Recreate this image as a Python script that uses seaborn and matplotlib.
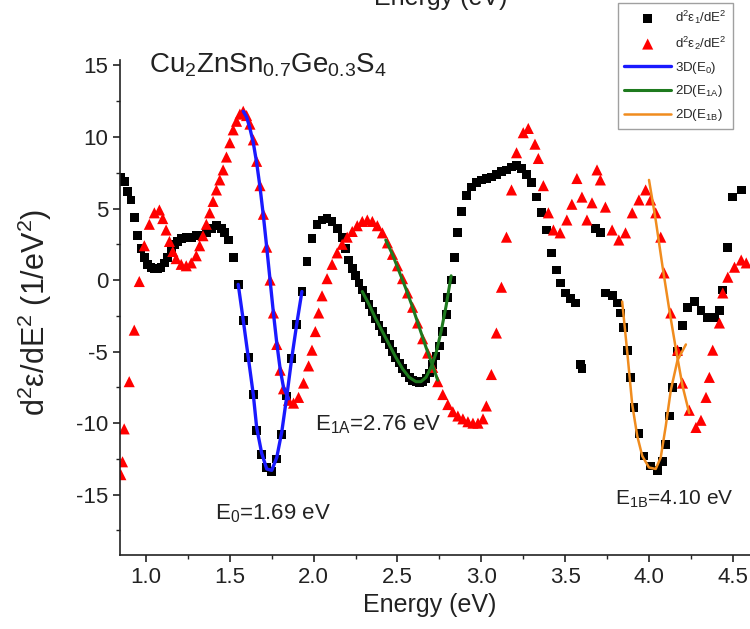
import numpy as np
import pandas as pd
import seaborn as sns
import matplotlib.pyplot as plt

# d2e1/dE2 (black squares)
e1_energy = [0.85, 0.87, 0.89, 0.91, 0.93, 0.95, 0.97, 0.99, 1.01, 1.03, 1.05, 1.07, 1.09, 1.11, 1.13,
             1.15, 1.17, 1.19, 1.21, 1.24, 1.27, 1.30, 1.33, 1.36, 1.39, 1.42, 1.45, 1.47, 1.49, 1.52,
             1.55, 1.58, 1.61, 1.64, 1.66, 1.69, 1.72, 1.75, 1.78, 1.81, 1.84, 1.87, 1.90, 1.93, 1.96,
             1.99, 2.02, 2.05, 2.08, 2.11, 2.14, 2.17, 2.19, 2.21, 2.23, 2.25, 2.27, 2.29, 2.31, 2.33,
             2.35, 2.37, 2.39, 2.41, 2.43, 2.45, 2.47, 2.49, 2.51, 2.53, 2.55, 2.57, 2.59, 2.61, 2.63,
             2.65, 2.67, 2.69, 2.71, 2.73, 2.75, 2.77, 2.79, 2.80, 2.82, 2.84, 2.86, 2.88, 2.91, 2.94,
             2.97, 3.00, 3.03, 3.06, 3.09, 3.12, 3.15, 3.18, 3.21, 3.24, 3.27, 3.30, 3.33, 3.36, 3.39,
             3.42, 3.45, 3.47, 3.50, 3.53, 3.56, 3.59, 3.60, 3.68, 3.71, 3.74, 3.78, 3.81, 3.83, 3.85,
             3.87, 3.89, 3.91, 3.94, 3.97, 4.01, 4.05, 4.08, 4.10, 4.12, 4.14, 4.17, 4.20, 4.23, 4.27,
             4.31, 4.35, 4.39, 4.42, 4.44, 4.47, 4.50, 4.55]
e1_d2 = [7.2, 6.9, 6.2, 5.6, 4.4, 3.1, 2.2, 1.6, 1.1, 0.9, 0.8, 0.8, 0.9, 1.2, 1.6,
         2.1, 2.5, 2.7, 2.9, 3.0, 3.0, 3.1, 3.1, 3.3, 3.6, 3.8, 3.6, 3.3, 2.8, 1.6,
         -0.3, -2.8, -5.4, -8.0, -10.5, -12.2, -13.1, -13.4, -12.5, -10.8, -8.1, -5.5, -3.1, -0.8, 1.3,
         2.9, 3.9, 4.2, 4.3, 4.1, 3.6, 3.0, 2.2, 1.4, 0.8, 0.3, -0.2, -0.7, -1.2, -1.7,
         -2.2, -2.7, -3.2, -3.6, -4.1, -4.5, -5.0, -5.4, -5.8, -6.2, -6.5, -6.8, -7.0, -7.1, -7.2,
         -7.1, -6.9, -6.5, -5.9, -5.3, -4.6, -3.6, -2.4, -1.2, 0.0, 1.6, 3.3, 4.8, 5.9, 6.5,
         6.8, 7.0, 7.1, 7.2, 7.4, 7.6, 7.7, 7.9, 8.0, 7.8, 7.4, 6.8, 5.8, 4.7, 3.5,
         1.9, 0.7, -0.2, -0.9, -1.3, -1.6, -5.9, -6.2, 3.6, 3.3, -0.9, -1.1, -1.6, -2.3, -3.3,
         -4.9, -6.8, -8.9, -10.7, -12.3, -13.0, -13.3, -12.7, -11.5, -9.5, -7.5, -5.0, -3.2, -1.9, -1.5,
         -2.1, -2.6, -2.6, -2.1, -0.7, 2.3, 5.8, 6.3]

# d2e2/dE2 (red triangles)
e2_energy = [0.85, 0.86, 0.87, 0.90, 0.93, 0.96, 0.99, 1.02, 1.05, 1.08, 1.10, 1.12, 1.14, 1.16, 1.18,
             1.21, 1.24, 1.27, 1.30, 1.32, 1.34, 1.36, 1.38, 1.40, 1.42, 1.44, 1.46, 1.48, 1.50, 1.52,
             1.54, 1.56, 1.58, 1.60, 1.62, 1.64, 1.66, 1.68, 1.70, 1.72, 1.74, 1.76, 1.78, 1.80, 1.82,
             1.85, 1.88, 1.91, 1.94, 1.97, 1.99, 2.01, 2.03, 2.05, 2.08, 2.11, 2.14, 2.17, 2.20, 2.23,
             2.26, 2.29, 2.32, 2.35, 2.38, 2.41, 2.44, 2.47, 2.50, 2.53, 2.56, 2.59, 2.62, 2.65, 2.68,
             2.71, 2.74, 2.77, 2.80, 2.83, 2.86, 2.89, 2.92, 2.95, 2.98, 3.01, 3.03, 3.06, 3.09, 3.12,
             3.15, 3.18, 3.21, 3.25, 3.28, 3.32, 3.34, 3.37, 3.40, 3.43, 3.47, 3.51, 3.54, 3.57, 3.60,
             3.63, 3.66, 3.69, 3.71, 3.74, 3.78, 3.82, 3.86, 3.90, 3.94, 3.98, 4.01, 4.04, 4.07, 4.09,
             4.13, 4.17, 4.20, 4.24, 4.28, 4.31, 4.34, 4.36, 4.38, 4.42, 4.44, 4.47, 4.51, 4.55, 4.58]
e2_d2 = [-13.6, -12.7, -10.4, -7.1, -3.5, -0.1, 2.4, 3.9, 4.7, 4.9, 4.3, 3.5, 2.7, 2.0, 1.5,
         1.1, 1.0, 1.2, 1.7, 2.4, 3.1, 3.9, 4.7, 5.5, 6.3, 7.0, 7.7, 8.6, 9.6, 10.5,
         11.1, 11.6, 11.8, 11.5, 10.9, 9.8, 8.3, 6.6, 4.6, 2.3, 0.0, -2.3, -4.5, -6.3, -7.6,
         -8.4, -8.6, -8.2, -7.2, -6.0, -4.9, -3.6, -2.3, -1.1, 0.1, 1.1, 1.9, 2.5, 3.0, 3.4,
         3.8, 4.1, 4.2, 4.1, 3.8, 3.3, 2.6, 1.8, 1.0, 0.1, -0.9, -1.9, -3.0, -4.1, -5.1,
         -6.1, -7.1, -8.0, -8.7, -9.2, -9.5, -9.7, -9.9, -10.0, -10.0, -9.7, -8.8, -6.6, -3.7, -0.5,
         3.0, 6.3, 8.9, 10.3, 10.6, 9.5, 8.5, 6.6, 4.7, 3.5, 3.3, 4.2, 5.3, 7.1, 5.8,
         4.2, 5.4, 7.7, 7.0, 5.1, 3.5, 2.8, 3.3, 4.7, 5.6, 6.3, 5.6, 4.7, 3.0, 0.5,
         -2.3, -4.9, -7.2, -9.1, -10.3, -9.8, -8.2, -6.8, -4.9, -3.0, -0.9, 0.2, 0.9, 1.4, 1.2]

# fits
e0_black_energy = [1.55, 1.58, 1.61, 1.64, 1.66, 1.69, 1.72, 1.75, 1.78, 1.81, 1.84, 1.87, 1.90, 1.93]
e0_black_fit = [-0.3, -2.8, -5.4, -8.0, -10.3, -12.1, -13.2, -13.3, -12.4, -10.6, -8.1, -5.4, -3.0, -0.8]
e0_red_energy = [1.58, 1.60, 1.62, 1.64, 1.66, 1.68, 1.70, 1.72, 1.74, 1.76, 1.78, 1.80, 1.82, 1.85]
e0_red_fit = [11.8, 11.4, 10.6, 9.6, 8.2, 6.5, 4.5, 2.3, 0.0, -2.3, -4.4, -6.2, -7.5, -8.3]

e1a_black_energy = [2.29, 2.33, 2.37, 2.41, 2.45, 2.49, 2.53, 2.57, 2.61, 2.64, 2.67, 2.70, 2.73, 2.76, 2.79, 2.82]
e1a_black_fit = [-0.8, -1.7, -2.7, -3.6, -4.5, -5.4, -6.2, -6.8, -7.1, -7.1, -6.8, -6.1, -5.1, -3.6, -1.8, 0.3]
e1a_red_energy = [2.43, 2.47, 2.51, 2.55, 2.59, 2.63, 2.67, 2.71, 2.74]
e1a_red_fit = [2.8, 1.8, 0.6, -0.6, -1.9, -3.3, -4.7, -6.0, -7.0]

e1b_black_energy = [3.84, 3.87, 3.90, 3.93, 3.96, 4.00, 4.04, 4.07, 4.10, 4.13, 4.17, 4.22]
e1b_black_fit = [-1.5, -5.0, -8.7, -10.9, -12.3, -13.1, -13.2, -12.4, -10.2, -7.7, -5.6, -4.5]
e1b_red_energy = [4.00, 4.04, 4.08, 4.12, 4.16, 4.20, 4.24]
e1b_red_fit = [7.0, 4.2, 1.0, -2.0, -4.8, -7.4, -9.3]

sns.set_style("ticks")
plt.rcParams['font.family'] = ['Liberation Sans', 'DejaVu Sans']
plt.rcParams['mathtext.fontset'] = 'custom'
plt.rcParams['mathtext.rm'] = 'Liberation Sans'
plt.rcParams['mathtext.default'] = 'regular'
plt.rcParams['axes.unicode_minus'] = False

fig = plt.figure(figsize=(7.5, 6.29), dpi=100)
ax = fig.add_axes([0.16, 0.118, 0.873, 0.787])

black = pd.DataFrame({"E": e1_energy, "y": e1_d2})
red = pd.DataFrame({"E": e2_energy, "y": e2_d2})

sns.scatterplot(data=black, x="E", y="y", ax=ax, marker="s", s=40, color="black",
                edgecolor="none", label=r"d$^2\epsilon_1$/dE$^2$", zorder=2)
sns.scatterplot(data=red, x="E", y="y", ax=ax, marker="^", s=64, color="#ff0000",
                edgecolor="none", label=r"d$^2\epsilon_2$/dE$^2$", zorder=2)

fits = [
    (e0_black_energy, e0_black_fit, "#1a1aff", 2.4, "3D(E$_0$)"),
    (e0_red_energy, e0_red_fit, "#1a1aff", 2.4, None),
    (e1a_black_energy, e1a_black_fit, "#1e7a1e", 2.2, "2D(E$_{1A}$)"),
    (e1a_red_energy, e1a_red_fit, "#1e7a1e", 2.2, None),
    (e1b_black_energy, e1b_black_fit, "#f08c1e", 1.8, "2D(E$_{1B}$)"),
    (e1b_red_energy, e1b_red_fit, "#f08c1e", 1.8, None),
]
for xs, ys, c, lw, lab in fits:
    sns.lineplot(x=xs, y=ys, ax=ax, color=c, lw=lw, label=lab, estimator=None, zorder=3)

ax.set_xlim(0.845, 4.75)
ax.set_ylim(-19.2, 15.4)
ax.set_xticks([1.0, 1.5, 2.0, 2.5, 3.0, 3.5, 4.0, 4.5])
ax.set_xticks(np.arange(1.25, 4.75, 0.5), minor=True)
ax.set_yticks([-15, -10, -5, 0, 5, 10, 15])
ax.set_yticks([-17.5, -12.5, -7.5, -2.5, 2.5, 7.5, 12.5], minor=True)
ax.set_xticklabels(["1.0", "1.5", "2.0", "2.5", "3.0", "3.5", "4.0", "4.5"])
ax.tick_params(axis="both", which="major", direction="out", length=5, width=1.2,
               labelsize=16, colors="#222222")
ax.tick_params(axis="both", which="minor", direction="out", length=3, width=1.0, colors="#222222")
for s in ["top", "right"]:
    ax.spines[s].set_visible(False)
for s in ["left", "bottom"]:
    ax.spines[s].set_linewidth(1.2)
    ax.spines[s].set_color("#222222")
ax.set_xlabel("")
ax.set_ylabel("")

fig.text(0.047, 0.504, r"d$^2$ε/dE$^2$ (1/eV$^2$)", rotation=90, ha="center", va="center",
         fontsize=22, color="#222222")
fig.text(0.573, 0.038, "Energy (eV)", ha="center", va="center", fontsize=18, color="#222222")
fig.text(0.588, 1.003, "Energy (eV)", ha="center", va="center", fontsize=18, color="#222222")

ax.text(1.02, 15.0, r"Cu$_2$ZnSn$_{0.7}$Ge$_{0.3}$S$_4$", fontsize=20, va="center", color="#222222")
ax.text(1.41, -16.3, r"E$_0$=1.69 eV", fontsize=16, va="center", color="#222222")
ax.text(2.01, -10.1, r"E$_{1A}$=2.76 eV", fontsize=16, va="center", color="#222222")
ax.text(3.80, -15.3, r"E$_{1B}$=4.10 eV", fontsize=15, va="center", color="#222222")

leg = ax.legend(loc="upper left", bbox_to_anchor=(0.824, 0.995), bbox_transform=fig.transFigure,
                fontsize=9.5, frameon=True, fancybox=False, labelspacing=0.6, handlelength=3.6,
                handletextpad=0.3, borderpad=0.45, borderaxespad=0.0, markerscale=1.0)
leg.get_frame().set_edgecolor("#888888")
leg.get_frame().set_linewidth(1.0)

fig.savefig("out.png", dpi=100)
